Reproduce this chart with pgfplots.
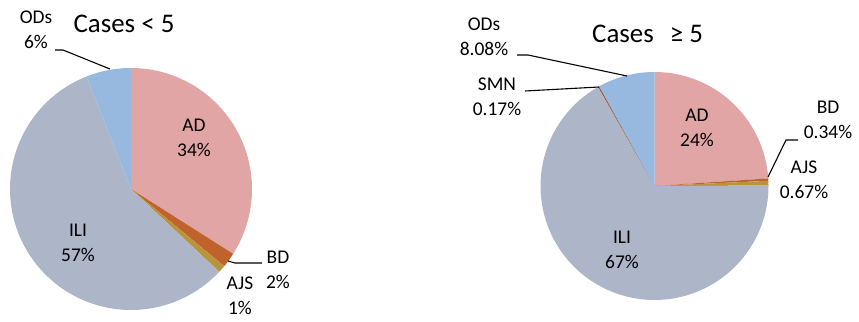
\documentclass[border=0pt]{standalone}
\usepackage{pgfplots}
\pgfplotsset{compat=1.18}
\usepackage{fontspec}
\setmainfont{Carlito}
\definecolor{cAD}{RGB}{224,165,164}
\definecolor{cBD}{RGB}{192,98,44}
\definecolor{cAJS}{RGB}{184,149,60}
\definecolor{cILI}{RGB}{173,182,201}
\definecolor{cODs}{RGB}{151,185,224}
\definecolor{cSMN}{RGB}{160,82,45}

\newcommand{\drawpie}[4]{%
  \gdef\pietotal{0}%
  \foreach \v/\c in {#4}{\pgfmathparse{\pietotal+\v}\xdef\pietotal{\pgfmathresult}}%
  \gdef\piecum{0}%
  \foreach \v/\c in {#4}{%
    \pgfmathsetmacro{\aStart}{90-360*(\piecum/\pietotal)}%
    \pgfmathsetmacro{\aDelta}{-360*(\v/\pietotal)}%
    \pgfmathparse{\piecum+\v}\xdef\piecum{\pgfmathresult}%
    \edef\doslice{\noexpand\addplot[fill=\c, draw=none, variable=\noexpand\t, samples at={-1,0,...,90}]
      ({(\noexpand\t<0) ? #1 : #1+#3*cos(\aStart+(\aDelta)*(\noexpand\t/90))},
       {(\noexpand\t<0) ? #2 : #2-#3*sin(\aStart+(\aDelta)*(\noexpand\t/90))});}%
    \doslice
  }%
}

\begin{document}
\begin{tikzpicture}[lbl/.style={font=\fontsize{19.5}{25}\selectfont, align=center, inner sep=0pt}]
\begin{axis}[width=859bp, height=322bp, scale only axis,
  xmin=0, xmax=859, ymin=0, ymax=322, y dir=reverse,
  hide axis, clip=false]
\path (axis cs:0,0) rectangle (axis cs:859,322);
% Left pie: Cases < 5
\drawpie{131}{189}{121}{34/cAD,2/cBD,1/cAJS,57/cILI,6/cODs}
% Right pie: Cases >= 5
\drawpie{654.5}{186}{114}{24/cAD,0.34/cBD,0.67/cAJS,67/cILI,0.17/cSMN,8.08/cODs}
% leader lines
\addplot[black, line width=1.1bp] coordinates {(55,50) (63,50) (110,69)};
\addplot[black, line width=1.1bp] coordinates {(228,261) (235,263) (262,263)};
\addplot[black, line width=1.1bp] coordinates {(517,55) (528,55) (627,76)};
\addplot[black, line width=1.1bp] coordinates {(525,91) (599,87)};
\addplot[black, line width=1.1bp] coordinates {(798,140) (786,140) (768,177)};
% titles
\node[anchor=base, font=\fontsize{27}{32}\selectfont, inner sep=0pt] at (axis cs:124,32) {Cases < 5};
\node[anchor=base west, font=\fontsize{27}{32}\selectfont, inner sep=0pt] at (axis cs:592,42) {Cases\hspace{16bp}≥ 5};
% labels left
\node[lbl] at (axis cs:194,138) {AD\\34\%};
\node[lbl] at (axis cs:78,243) {ILI\\57\%};
\node[lbl] at (axis cs:278,270) {BD\\2\%};
\node[lbl] at (axis cs:240,296) {AJS\\1\%};
\node[lbl] at (axis cs:36,30) {ODs\\6\%};
% labels right
\node[lbl] at (axis cs:697,128) {AD\\24\%};
\node[lbl] at (axis cs:622,250) {ILI\\67\%};
\node[lbl] at (axis cs:828,120) {BD\\0.34\%};
\node[lbl] at (axis cs:804,180) {AJS\\0.67\%};
\node[lbl] at (axis cs:497,97) {SMN\\0.17\%};
\node[lbl] at (axis cs:484,37) {ODs\\8.08\%};
\end{axis}
\end{tikzpicture}
\end{document}
